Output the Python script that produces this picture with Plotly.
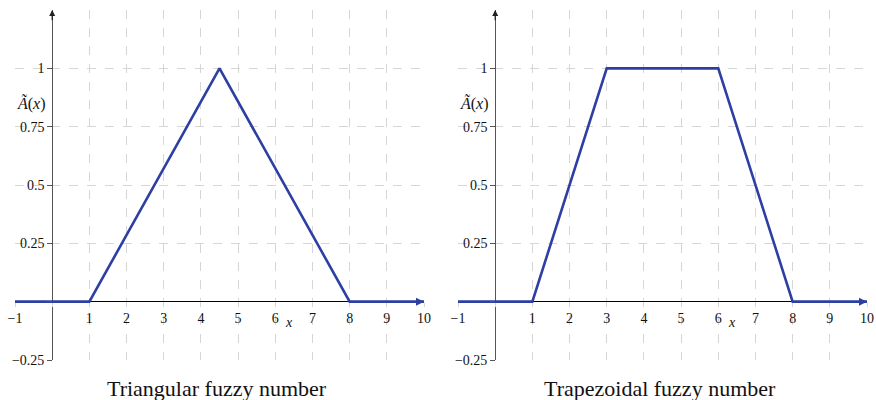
import plotly.graph_objects as go

# ---- data ----
tri_x = [-1, 1, 4.5, 8, 10]
tri_y = [0, 0, 1, 0, 0]
trap_x = [-1, 1, 3, 6, 8, 10]
trap_y = [0, 0, 1, 1, 0, 0]

x_tickvals = [-1, 0, 1, 2, 3, 4, 5, 6, 7, 8, 9, 10]
x_ticktext = ["−1", "", "1", "2", "3", "4", "5", "6", "7", "8", "9", "10"]
y_tickvals = [-0.25, 0, 0.25, 0.5, 0.75, 1]
y_ticktext = ["−0.25", "", "0.25", "0.5", "0.75", "1"]
titles = ["Triangular fuzzy number", "Trapezoidal fuzzy number"]

XR = [-1, 10]
YR = [-0.25, 1.25]

W, H = 876, 400
x_domains = [[15 / W, 424 / W], [458 / W, 867 / W]]
y_domain = [1 - 360 / H, 1 - 10 / H]

BLUE = "#2E3FA3"
GRID = "#d6d6d6"
FONT = "Liberation Serif, Times New Roman, serif"
TXT = "#111"

fig = go.Figure()

series = [(tri_x, tri_y), (trap_x, trap_y)]
for i, (xs, ys) in enumerate(series):
    sfx = "" if i == 0 else "2"
    fig.add_trace(go.Scatter(x=xs, y=ys, mode="lines",
                             line=dict(color=BLUE, width=2.6),
                             xaxis="x" + sfx, yaxis="y" + sfx,
                             showlegend=False, hoverinfo="skip"))

def frac(v, r):
    return (v - r[0]) / (r[1] - r[0])

layout = dict(width=W, height=H,
              margin=dict(l=0, r=0, t=0, b=0, pad=0, autoexpand=False),
              paper_bgcolor="white", plot_bgcolor="white", showlegend=False,
              font=dict(family=FONT, size=13, color=TXT))

annotations = []
for i in range(2):
    sfx = "" if i == 0 else "2"
    xd = x_domains[i]
    ypos = y_domain[0] + frac(0, YR) * (y_domain[1] - y_domain[0])
    xpos = xd[0] + frac(0, XR) * (xd[1] - xd[0])
    layout["xaxis" + sfx] = dict(
        domain=xd, range=XR, anchor="free", position=ypos,
        tickvals=x_tickvals, ticktext=x_ticktext,
        showgrid=True, gridcolor=GRID, griddash="dash", gridwidth=1,
        zeroline=True, zerolinecolor="#555", zerolinewidth=1.3,
        showline=False, ticks="outside", ticklen=4, tickcolor=GRID,
        tickfont=dict(family=FONT, size=14, color=TXT),
        automargin=False, fixedrange=True)
    layout["yaxis" + sfx] = dict(
        domain=y_domain, range=YR, anchor="free", position=xpos,
        tickvals=y_tickvals, ticktext=y_ticktext,
        showgrid=True, gridcolor=GRID, griddash="dash", gridwidth=1,
        zeroline=True, zerolinecolor="#000", zerolinewidth=1.1,
        showline=False, ticks="outside", ticklen=5, tickcolor="#555",
        tickfont=dict(family=FONT, size=14, color=TXT),
        automargin=False, fixedrange=True)
    xref, yref = "x" + sfx, "y" + sfx
    # arrow heads
    annotations.append(dict(x=0, y=1.25, ax=0, ay=1.2, xref=xref, yref=yref,
                            axref=xref, ayref=yref, showarrow=True, text="",
                            arrowhead=2, arrowsize=1, arrowwidth=1.2,
                            arrowcolor="#222"))
    annotations.append(dict(x=10, y=0, ax=9.8, ay=0, xref=xref, yref=yref,
                            axref=xref, ayref=yref, showarrow=True, text="",
                            arrowhead=2, arrowsize=1, arrowwidth=1.6,
                            arrowcolor=BLUE))
    # axis labels
    annotations.append(dict(x=-0.55, y=0.85, xref=xref, yref=yref,
                            text="<i>Ã</i>(<i>x</i>)", showarrow=False,
                            xanchor="center", yanchor="middle",
                            font=dict(family=FONT, size=16, color=TXT)))
    annotations.append(dict(x=6.38, y=-0.09, xref=xref, yref=yref,
                            text="<i>x</i>", showarrow=False,
                            xanchor="center", yanchor="middle",
                            font=dict(family=FONT, size=14, color=TXT)))
    # subplot title
    annotations.append(dict(x=(xd[0] + xd[1]) / 2 - 0.003, y=1 - 388 / H,
                            xref="paper", yref="paper", text=titles[i],
                            showarrow=False, xanchor="center", yanchor="middle",
                            font=dict(family=FONT, size=22, color="#111")))

layout["annotations"] = annotations
fig.update_layout(**layout)
fig.write_html("out.html")
